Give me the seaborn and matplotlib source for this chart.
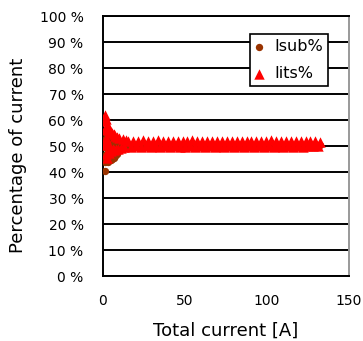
import numpy as np
import pandas as pd
import matplotlib
matplotlib.use("Agg")
import matplotlib.pyplot as plt
import seaborn as sns

sns.set_style("white")
plt.rcParams["font.family"] = ["DejaVu Sans"]
plt.rcParams["text.color"] = "black"
plt.rcParams["axes.labelcolor"] = "black"

# total current [A] (measurement points)
current_a = [0.8, 1.0, 1.2, 1.4, 1.6, 1.8, 2.0, 2.3, 2.6, 2.9, 3.2, 3.5, 3.8, 4.2, 4.6,
             5.0, 5.5, 6.0, 6.5, 7.0, 7.5, 8.0, 8.5, 9.0, 10, 11, 12, 13, 14,
             15.5, 17, 18.5, 20, 21.5, 23, 24.5, 26, 27.5, 29, 30.5, 32, 33.5, 35,
             36.5, 38, 39.5, 41, 42.5, 44, 45.5, 47, 48.5, 50, 51.5, 53, 54.5, 56,
             57.5, 59, 60.5, 62, 63.5, 65, 66.5, 68, 69.5, 71, 72.5, 74, 75.5, 77,
             78.5, 80, 81.5, 83, 84.5, 86, 87.5, 89, 90.5, 92, 93.5, 95, 96.5, 98,
             99.5, 101, 102.5, 104, 105.5, 107, 108.5, 110, 111.5, 113, 114.5, 116,
             117.5, 119, 120.5, 122, 123.5, 125, 126.5, 128, 129.5, 131, 132.5]

# Iits share of the total current [%]
iits_pct = [50.5, 62.0, 59.5, 56.0, 47.0, 60.5, 53.0, 45.5, 58.0, 51.0, 56.5, 47.5, 57.0, 49.0, 55.5,
            48.0, 55.0, 49.0, 54.5, 48.5, 54.0, 49.0, 53.5, 49.0, 53.0, 49.3, 52.6, 49.5, 52.3,
            51.9, 49.8, 52.1, 49.9, 51.8, 49.7, 52.4, 50.0, 51.9, 49.8,
            52.0, 49.9, 52.2, 49.7, 51.8, 50.0, 52.1, 49.8, 51.9, 49.9,
            52.0, 49.8, 52.1, 49.7, 51.8, 50.0, 52.4, 49.8, 51.9, 49.9,
            52.0, 49.8, 52.1, 49.9, 51.8, 49.7, 52.0, 49.9, 51.9, 49.8,
            52.1, 49.9, 52.0, 49.8, 51.9, 50.0, 52.1, 49.8, 51.8, 49.9,
            52.0, 49.7, 51.9, 49.9, 52.1, 49.8, 52.0, 49.9, 52.2, 49.8,
            51.9, 50.0, 52.1, 49.8, 51.8, 49.9, 52.0, 49.8, 52.1, 49.9,
            51.9, 49.8, 52.0, 49.9, 51.8, 50.0, 51.9, 50.1, 51.7]

# Isub share of the total current [%]
isub_pct = [49.5, 40.5, 44.5, 44.0, 53.0, 45.0, 47.0, 54.5, 44.5, 49.0, 44.0, 52.5, 44.5, 51.0, 44.5,
            52.0, 45.0, 51.0, 45.5, 51.5, 46.0, 51.0, 47.0, 51.0, 48.5, 51.0, 49.0, 50.8, 49.3,
            50.2, 49.8, 50.4, 49.6, 50.3, 49.7, 50.5, 49.6, 50.2, 49.8,
            50.4, 49.6, 50.3, 49.7, 50.2, 49.8, 50.4, 49.6, 50.3, 49.7,
            50.2, 49.8, 50.4, 49.6, 50.3, 49.7, 50.5, 49.6, 50.2, 49.8,
            50.4, 49.6, 50.3, 49.7, 50.2, 49.8, 50.4, 49.6, 50.3, 49.7,
            50.2, 49.8, 50.4, 49.6, 50.3, 49.7, 50.5, 49.6, 50.2, 49.8,
            50.4, 49.6, 50.3, 49.7, 50.2, 49.8, 50.4, 49.6, 50.3, 49.7,
            50.2, 49.8, 50.4, 49.6, 50.3, 49.7, 50.5, 49.6, 50.2, 49.8,
            50.4, 49.6, 50.3, 49.7, 50.2, 49.8, 50.4, 49.6, 50.3]

x_ticks = [0, 50, 100, 150]
y_ticks = [0, 10, 20, 30, 40, 50, 60, 70, 80, 90, 100]
y_tick_labels = [f"{v} %" for v in y_ticks]

df = pd.DataFrame({"current": current_a, "isub": isub_pct, "iits": iits_pct})

fig = plt.figure(figsize=(3.63, 3.41), dpi=100)
ax = fig.add_axes([103 / 363, 65 / 341, 246 / 363, 260 / 341])

sns.scatterplot(data=df, x="current", y="isub", ax=ax, color="#993300", marker="o",
                s=28, linewidth=0, label="Isub%", zorder=3)
sns.scatterplot(data=df, x="current", y="iits", ax=ax, color="#ff0000", marker="^",
                s=56, linewidth=0, label="Iits%", zorder=4)

ax.set_xlim(0, 150)
ax.set_ylim(0, 100)
ax.set_xticks(x_ticks)
ax.set_yticks(y_ticks)
ax.set_yticklabels(y_tick_labels)
ax.tick_params(axis="both", direction="out", length=6, width=1.3, colors="black",
               labelsize=10)
ax.tick_params(axis="y", pad=8)
ax.tick_params(axis="x", pad=7)

ax.set_axisbelow(True)
ax.yaxis.grid(True, color="black", linewidth=1.4)
ax.xaxis.grid(False)
for side in ["left", "bottom", "top"]:
    ax.spines[side].set_color("black")
    ax.spines[side].set_linewidth(1.4)
ax.spines["right"].set_color("#999999")
ax.spines["right"].set_linewidth(1.4)

ax.set_xlabel("Total current [A]", fontsize=13, labelpad=10, color="black")
ax.set_ylabel("Percentage of current", fontsize=13, color="black")
ax.yaxis.set_label_coords(-0.31, 0.465)

leg = ax.legend(loc="upper right", bbox_to_anchor=(0.915, 0.931), borderaxespad=0,
                frameon=True, fancybox=False, fontsize=11.5, handlelength=0.6,
                handletextpad=0.66, labelspacing=0.76, borderpad=0.3, markerscale=1.0)
leg.get_frame().set_edgecolor("black")
leg.get_frame().set_linewidth(1.2)
leg.get_frame().set_facecolor("white")
leg.get_frame().set_alpha(1)
for t in leg.get_texts():
    t.set_color("black")

fig.savefig("out.png", dpi=100)
